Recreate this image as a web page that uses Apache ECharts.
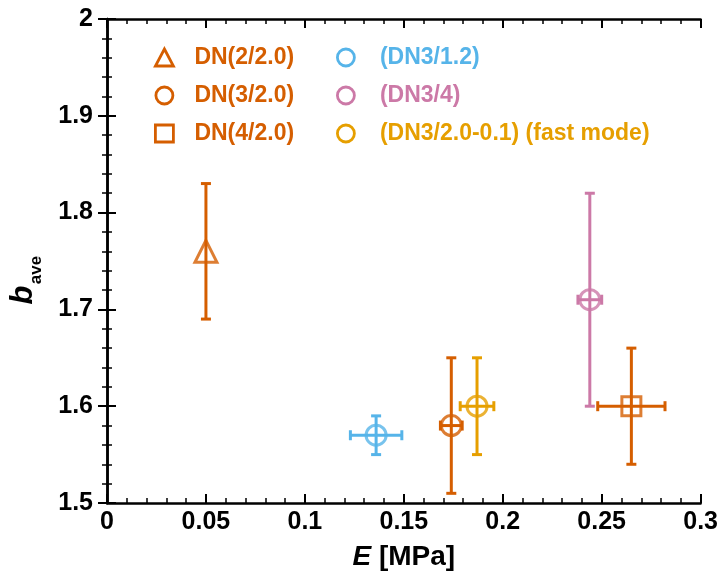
<!DOCTYPE html>
<html><head><meta charset="utf-8">
<script src="https://cdn.jsdelivr.net/npm/echarts@6/dist/echarts.min.js"></script>
<style>html,body{margin:0;padding:0;background:#fff}#c{width:721px;height:578px}</style>
</head><body><div id="c"></div>
<script>
const names = ['DN(2/2.0)','DN(3/2.0)','DN(4/2.0)','(DN3/1.2)','(DN3/4)','(DN3/2.0-0.1) (fast mode)'];
const symbols = ['triangle','circle','rect','circle','circle','circle'];
const colors = ['#D55E00','#D55E00','#D55E00','#56B4E9','#CC79A7','#E69F00'];
const E = [0.05, 0.174, 0.265, 0.136, 0.244, 0.187];
const Eerr = [0, 0.0055, 0.017, 0.013, 0.006, 0.0085];
const bAve = [1.76, 1.58, 1.60, 1.57, 1.71, 1.60];
const bLow = [1.69, 1.51, 1.54, 1.55, 1.60, 1.55];
const bHigh = [1.83, 1.65, 1.66, 1.59, 1.82, 1.65];
const xTicks = {min:0, max:0.3, interval:0.05};
const yTicks = {min:1.5, max:2.0, interval:0.1};
const symSizes = [22, 20, 19, 20, 20, 20];

const chart = echarts.init(document.getElementById('c'));
const font = 'Liberation Sans, Arial, sans-serif';
const LW = 3;
const series = [];
names.forEach((n,i)=>{
  series.push({
    type:'custom', name:n, z:2, silent:true,
    renderItem:(params, api)=>{
      const x = api.value(0), y = api.value(1), lo = api.value(2), hi = api.value(3), ex = api.value(4);
      const c = api.coord([x,y]);
      const pL = api.coord([x,lo]), pH = api.coord([x,hi]);
      const st = {stroke: colors[i], lineWidth: LW};
      const cap = 5;
      const ch = [
        {type:'line', shape:{x1:c[0],y1:pL[1],x2:c[0],y2:pH[1]}, style:st},
        {type:'line', shape:{x1:c[0]-cap,y1:pL[1],x2:c[0]+cap,y2:pL[1]}, style:st},
        {type:'line', shape:{x1:c[0]-cap,y1:pH[1],x2:c[0]+cap,y2:pH[1]}, style:st}
      ];
      if (ex > 0) {
        const xl = api.coord([x-ex,y]), xh = api.coord([x+ex,y]);
        ch.push({type:'line', shape:{x1:xl[0],y1:c[1],x2:xh[0],y2:c[1]}, style:st});
        ch.push({type:'line', shape:{x1:xl[0],y1:c[1]-cap,x2:xl[0],y2:c[1]+cap}, style:st});
        ch.push({type:'line', shape:{x1:xh[0],y1:c[1]-cap,x2:xh[0],y2:c[1]+cap}, style:st});
      }
      return {type:'group', children: ch};
    },
    data:[[E[i], bAve[i], bLow[i], bHigh[i], Eerr[i]]]
  });
  series.push({
    type:'scatter', name:n, z:3, symbol:symbols[i], symbolSize:symSizes[i],
    itemStyle:{color:'rgba(255,255,255,0)', borderColor:colors[i], borderWidth:LW},
    data:[[E[i], bAve[i]]]
  });
});

function legendData(idx){
  return idx.map(i=>({name:names[i], icon:symbols[i],
    itemStyle:{color:'rgba(255,255,255,0)', borderColor:colors[i], borderWidth:2.8},
    textStyle:{color:colors[i]}}));
}
function legendCfg(left, idx, pad){
  return {orient:'vertical', left:left, top:46, padding:0, itemWidth:18, itemHeight:17, itemGap:15,
    selectedMode:false, data:legendData(idx),
    textStyle:{fontFamily:font, fontWeight:'bold', fontSize:23, padding:[0,0,0,pad]}};
}

const axisCommon = {
  axisLine:{show:true, lineStyle:{color:'#000', width:2.5}},
  axisTick:{show:true, inside:true, length:9, lineStyle:{color:'#000', width:2}},
  minorTick:{show:true, splitNumber:5, length:5, lineStyle:{color:'#000', width:1.5}},
  splitLine:{show:false}
};

chart.setOption({
  animation:false,
  grid:{left:107, right:18, top:19, bottom:75},
  legend:[ legendCfg(154, [0,1,2], 16), legendCfg(336, [3,4,5], 20) ],
  xAxis:[
    Object.assign({type:'value', min:xTicks.min, max:xTicks.max, interval:xTicks.interval, position:'bottom',
      axisLabel:{color:'#000', fontFamily:font, fontWeight:'bold', fontSize:25, margin:7,
        formatter:v=>String(+v.toFixed(2))},
      name:'{i|E}{r| [MPa]}', nameLocation:'middle', nameGap:40,
      nameTextStyle:{rich:{i:{fontFamily:font, fontWeight:'bold', fontStyle:'italic', fontSize:28, color:'#000'},
        r:{fontFamily:font, fontWeight:'bold', fontSize:28, color:'#000'}}}}, axisCommon),
    Object.assign({type:'value', min:xTicks.min, max:xTicks.max, interval:xTicks.interval, position:'top',
      axisLabel:{show:false}}, axisCommon)
  ],
  yAxis:[
    Object.assign({type:'value', min:yTicks.min, max:yTicks.max, interval:yTicks.interval, position:'left',
      axisLabel:{color:'#000', fontFamily:font, fontWeight:'bold', fontSize:25, margin:14,
        formatter:v=>String(+v.toFixed(1))}}, axisCommon),
    Object.assign({type:'value', min:yTicks.min, max:yTicks.max, interval:yTicks.interval, position:'right',
      axisLabel:{show:false}}, axisCommon)
  ],
  graphic:[
    {type:'text', x:23, y:295, rotation:Math.PI/2,
      style:{text:'b', font:'italic bold 31px Liberation Sans, Arial, sans-serif', fill:'#000', align:'center', verticalAlign:'middle'}},
    {type:'text', x:36, y:270, rotation:Math.PI/2,
      style:{text:'ave', font:'bold 17px Liberation Sans, Arial, sans-serif', fill:'#000', align:'center', verticalAlign:'middle'}}
  ],
  series: series
});
</script></body></html>
